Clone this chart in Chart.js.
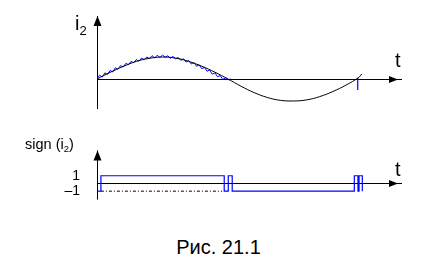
<!DOCTYPE html>
<html>
<head>
<meta charset="utf-8">
<script src="https://cdn.jsdelivr.net/npm/chart.js@4"></script>
<style>
  html, body { margin: 0; padding: 0; background: #fff; }
  body { width: 431px; height: 273px; position: relative; overflow: hidden;
         font-family: "Liberation Sans", Arial, sans-serif; color: #000; }
  canvas { position: absolute; left: 0; }
  .lbl { position: absolute; white-space: nowrap; line-height: 1; }
  .lbl sub { font-size: 0.65em; vertical-align: -0.35em; }
</style>
</head>
<body>
<canvas id="topChart" width="431" height="120" style="top:0"></canvas>
<canvas id="signChart" width="431" height="100" style="top:125px"></canvas>

<div class="lbl" style="left:75px; top:13px; font-size:20px">i<sub>2</sub></div>
<div class="lbl" style="left:395px; top:50px; font-size:20px">t</div>
<div class="lbl" style="left:25px; top:137px; font-size:14.5px">sign (i<sub>2</sub>)</div>
<div class="lbl" style="left:395px; top:159px; font-size:20px">t</div>
<div class="lbl" style="left:3px; width:431px; text-align:center; top:237px; font-size:20px">Рис. 21.1</div>

<script>
// time in ms (half period ~10), current normalised to peak = 1
const tSine = [0, 1, 2, 3, 4, 5, 6, 7, 8, 9, 10, 11, 12, 13, 14, 15, 16, 17, 18, 19, 20, 20.2];
const iSine = [0, 0.30, 0.57, 0.80, 0.94, 1.0, 0.95, 0.80, 0.58, 0.31, 0.0, -0.33, -0.62, -0.84, -0.97, -1.0, -0.95, -0.80, -0.57, -0.28, 0.08, 0.23];

// measured (noisy) current over the first half wave
const tNoisy = [0, 0.2, 0.4, 0.6, 0.8, 1.0, 1.2, 1.4, 1.6, 1.8, 2.0, 2.2, 2.4, 2.6, 2.8, 3.0, 3.2, 3.4,
  3.6, 3.8, 4.0, 4.2, 4.4, 4.6, 4.8, 5.0, 5.2, 5.4, 5.6, 5.8, 6.0, 6.2, 6.4, 6.6, 6.8, 7.0,
  7.2, 7.4, 7.6, 7.8, 8.0, 8.2, 8.4, 8.6, 8.8, 9.0, 9.2, 9.4, 9.6, 9.8, 10.0, 10.2];
const iNoisy = [0.02, 0.17, 0.09, 0.28, 0.21, 0.39, 0.32, 0.51, 0.44, 0.61, 0.55, 0.71, 0.65, 0.80, 0.74, 0.88, 0.81, 0.95,
  0.88, 1.00, 0.93, 1.06, 0.96, 1.08, 0.98, 1.09, 0.98, 1.06, 0.94, 1.03, 0.91, 0.98, 0.85, 0.92, 0.77, 0.84,
  0.68, 0.75, 0.58, 0.64, 0.47, 0.53, 0.35, 0.41, 0.22, 0.28, 0.10, 0.16, -0.02, 0.05, -0.04, 0.0];

// short blue marker near the second zero crossing
const tMark = [19.9, 19.9];
const iMark = [0.05, -0.5];

// sign(i2)
const tSign = [0.08, 0.3, 0.3, 9.71, 9.71, 10.02, 10.02, 10.32, 10.32, 19.64, 19.64, 19.92, 19.92, 20.0, 20.0, 20.25, 20.25];
const sSign = [-1, -1, 1, 1, -1, -1, 1, 1, -1, -1, 1, 1, -1, -1, 1, 1, -1];
const tDotted = [0.3, 9.55];
const sDotted = [-1, -1];
const signTicks = [1, -1];

const pts = (xs, ys) => xs.map((x, i) => ({ x, y: ys[i] }));

// axes with arrow heads, drawn along the zero lines of the scales
const axesArrows = {
  id: 'axesArrows',
  beforeDatasetsDraw(chart) {
    const { ctx, chartArea: a, scales: { x, y } } = chart;
    const x0 = Math.round(x.getPixelForValue(0)) + 0.5;
    const y0 = Math.round(y.getPixelForValue(0)) + 0.5;
    ctx.save();
    ctx.strokeStyle = '#000';
    ctx.fillStyle = '#000';
    ctx.lineWidth = 1;
    ctx.beginPath();
    ctx.moveTo(x0, a.bottom); ctx.lineTo(x0, a.top);
    ctx.moveTo(a.left, y0); ctx.lineTo(a.right, y0);
    ctx.stroke();
    ctx.beginPath();
    ctx.moveTo(x0, a.top); ctx.lineTo(x0 - 4, a.top + 10); ctx.lineTo(x0 + 4, a.top + 10); ctx.closePath();
    ctx.moveTo(a.right - 4, y0); ctx.lineTo(a.right - 13, y0 - 3.5); ctx.lineTo(a.right - 13, y0 + 3.5); ctx.closePath();
    ctx.fill();
    ctx.restore();
  }
};

const xScale = { type: 'linear', min: 0, max: 23.28, display: false };

new Chart(document.getElementById('topChart'), {
  type: 'line',
  data: {
    datasets: [
      { data: pts(tSine, iSine), borderColor: '#000', borderWidth: 1, tension: 0.4, pointRadius: 0 },
      { data: pts(tNoisy, iNoisy), borderColor: '#0000ff', borderWidth: 1, tension: 0, pointRadius: 0 },
      { data: pts(tMark, iMark), borderColor: '#0000ff', borderWidth: 1.2, tension: 0, pointRadius: 0 }
    ]
  },
  options: {
    responsive: false,
    animation: false,
    layout: { padding: { left: 97, right: 29, top: 16, bottom: 11 } },
    plugins: { legend: { display: false }, tooltip: { enabled: false } },
    scales: {
      x: xScale,
      y: { type: 'linear', min: -1.364, max: 2.864, display: false }
    }
  },
  plugins: [axesArrows]
});

new Chart(document.getElementById('signChart'), {
  type: 'line',
  data: {
    datasets: [
      { data: pts(tDotted, sDotted), borderColor: '#000', borderWidth: 1, borderDash: [3, 2, 1, 2], pointRadius: 0 },
      { data: pts(tSign, sSign), borderColor: '#0000ff', borderWidth: 1.2, tension: 0, pointRadius: 0 }
    ]
  },
  options: {
    responsive: false,
    animation: false,
    layout: { padding: { left: 0, right: 29, top: 18, bottom: 15 } },
    plugins: { legend: { display: false }, tooltip: { enabled: false } },
    scales: {
      x: xScale,
      y: {
        type: 'linear', min: -2.095, max: 4.286,
        afterBuildTicks: s => { s.ticks = signTicks.map(v => ({ value: v })); },
        afterFit: s => { s.width = 97; },
        grid: { display: false, drawTicks: false },
        border: { display: false },
        ticks: {
          padding: 17,
          color: '#000',
          font: { family: '"Liberation Sans", Arial, sans-serif', size: 14 },
          callback: v => (v < 0 ? '–1' : String(v))
        }
      }
    }
  },
  plugins: [axesArrows]
});
</script>
</body>
</html>
